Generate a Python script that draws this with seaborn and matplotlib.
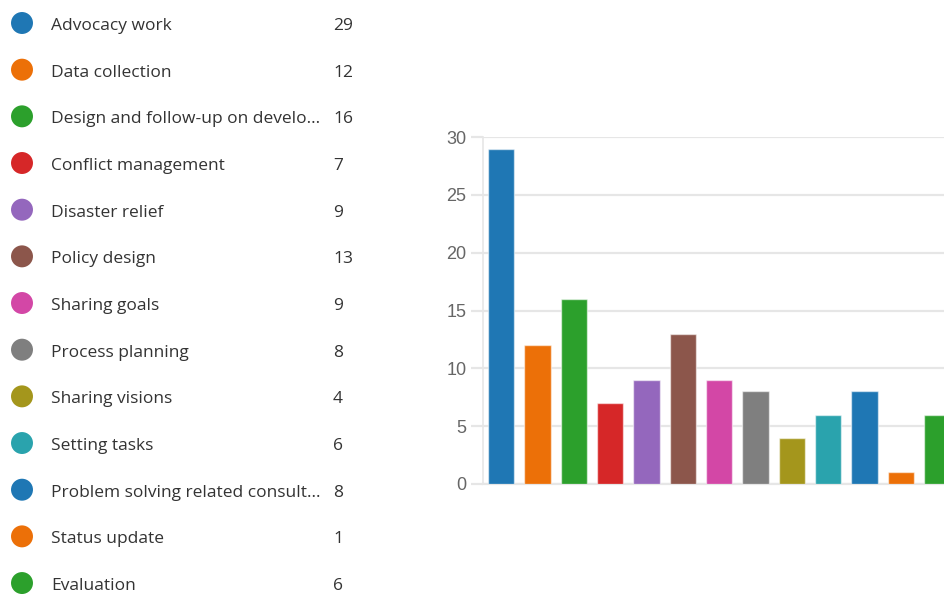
import matplotlib
matplotlib.use("Agg")
import matplotlib.pyplot as plt
import seaborn as sns
import pandas as pd

# Survey responses per activity
categories = [
    "Advocacy work",
    "Data collection",
    "Design and follow-up on develo…",
    "Conflict management",
    "Disaster relief",
    "Policy design",
    "Sharing goals",
    "Process planning",
    "Sharing visions",
    "Setting tasks",
    "Problem solving related consult…",
    "Status update",
    "Evaluation",
]
counts = [29, 12, 16, 7, 9, 13, 9, 8, 4, 6, 8, 1, 6]
colors = [
    "#1f77b4", "#ec7008", "#2ca02c", "#d62728", "#9467bd", "#8c564b",
    "#d347a6", "#7f7f7f", "#a4961c", "#2aa3ad", "#1f77b4", "#ec7008", "#2ca02c",
]
y_ticks = [0, 5, 10, 15, 20, 25, 30]

df = pd.DataFrame({"category": categories, "count": counts})
df["idx"] = range(len(df))

sns.set_theme(style="white")
plt.rcParams["font.family"] = ["Liberation Sans", "DejaVu Sans"]

W, H = 944, 594
fig = plt.figure(figsize=(W / 100, H / 100), dpi=100)

# Bar chart panel (extends past the right edge)
px = lambda x: x / W
py = lambda y: 1 - y / H
left, right = 483, 483 + 13 * 36.33
bottom, top = 484, 137
ax = fig.add_axes([px(left), py(bottom), px(right - left), py(top) - py(bottom)])

sns.barplot(
    data=df, x="idx", y="count", hue="idx", palette=colors, legend=False,
    width=0.72, edgecolor=(1, 1, 1, 0.55), linewidth=1.0, saturation=1, ax=ax,
    zorder=3,
)
ax.set_xlim(-0.5, len(categories) - 0.5)
ax.set_ylim(0, 30)
ax.set_yticks(y_ticks)
ax.set_xticks([])
ax.set_xlabel("")
ax.set_ylabel("")
grid_c = "#e6e6e6"
ax.yaxis.grid(True, color=grid_c, linewidth=1.6, zorder=0)
ax.set_axisbelow(True)
for side in ["top", "right"]:
    ax.spines[side].set_visible(False)
ax.spines["left"].set_color(grid_c)
ax.spines["left"].set_linewidth(1.2)
ax.spines["bottom"].set_color(grid_c)
ax.spines["bottom"].set_linewidth(1.6)
ax.tick_params(axis="y", length=9, width=1.6, color=grid_c, pad=3,
               labelsize=13, labelcolor="#666666", left=True)

# Legend panel with colored dots, names and counts
lg = fig.add_axes([0, 0, 1, 1])
lg.set_xlim(0, W)
lg.set_ylim(H, 0)
lg.axis("off")
row_y = [23 + i * 46.67 for i in range(len(categories))]
lg.scatter([22] * len(categories), row_y, s=250, c=colors, edgecolors="none")
font = ["Open Sans", "DejaVu Sans"]
for name, n, y in zip(categories, counts, row_y):
    lg.text(51, y + 7, name, va="baseline", ha="left", fontsize=12.5,
            color="#333333", family=font)
    lg.text(333, y + 7, str(n), va="baseline", ha="left", fontsize=12.5,
            color="#333333", family=font)

fig.savefig("out.png", dpi=100)
